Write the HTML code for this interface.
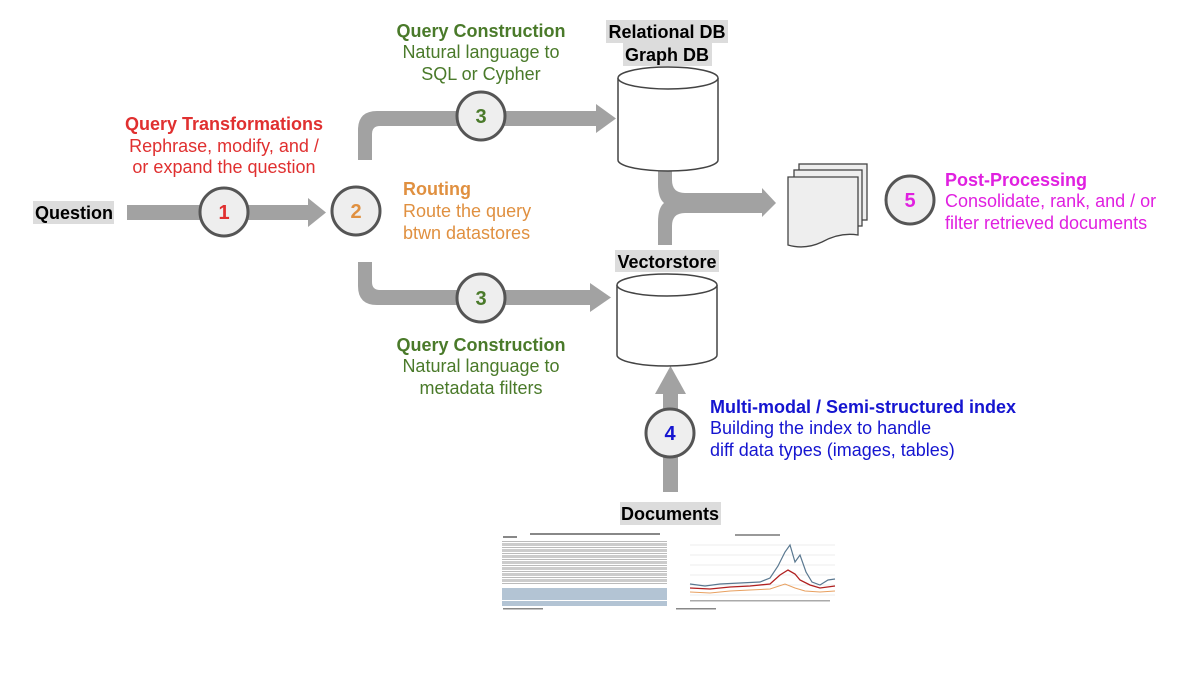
<!DOCTYPE html>
<html><head><meta charset="utf-8"><style>
html,body{margin:0;padding:0;background:#fff;}
svg{display:block;font-family:"Liberation Sans",Arial,sans-serif;}
</style></head><body>
<svg width="1200" height="674" viewBox="0 0 1200 674">
<g fill="#a2a2a2">
  <rect x="127" y="205" width="183" height="15"/>
  <polygon points="308,198 326,212.5 308,227"/>
  <path d="M358,160 L358,130 Q358,111 377,111 L598,111 L598,126 L380,126 Q372,126 372,134 L372,160 Z"/>
  <polygon points="596,104 616,118.5 596,133"/>
  <path d="M358,262 L358,286 Q358,305 377,305 L592,305 L592,290 L380,290 Q372,290 372,282 L372,262 Z"/>
  <polygon points="590,283 611,297.5 590,312"/>
  <path d="M658,159 L672,159 L672,180 Q672,193 685,193 L762,193 L762,213 L685,213 Q672,213 672,226 L672,245 L658,245 L658,222 Q658,208 664,203 Q658,198 658,184 Z"/>
  <polygon points="762,188 776,203 762,217"/>
  <rect x="663" y="392" width="15" height="100"/>
  <polygon points="655,394 670.5,366 686,394"/>
</g>
<g fill="#eeeeee" stroke="#555" stroke-width="3">
  <circle cx="224" cy="212" r="24"/>
  <circle cx="356" cy="211" r="24"/>
  <circle cx="481" cy="116" r="24"/>
  <circle cx="481" cy="298" r="24"/>
  <circle cx="670" cy="433" r="24"/>
  <circle cx="910" cy="200" r="24"/>
</g>
<g font-size="20" font-weight="bold" text-anchor="middle">
  <text x="224" y="219" fill="#e03030">1</text>
  <text x="356" y="218" fill="#e09040">2</text>
  <text x="481" y="123" fill="#4a7a2a">3</text>
  <text x="481" y="305" fill="#4a7a2a">3</text>
  <text x="670" y="440" fill="#1515d0">4</text>
  <text x="910" y="207" fill="#e020e0">5</text>
</g>
<g fill="#fff" stroke="#444" stroke-width="1.5">
  <path d="M618,78 L618,160 A50,11 0 0 0 718,160 L718,78"/>
  <ellipse cx="668" cy="78" rx="50" ry="11"/>
  <path d="M617,285 L617,355 A50,11 0 0 0 717,355 L717,285"/>
  <ellipse cx="667" cy="285" rx="50" ry="11"/>
</g>
<g fill="#eee" stroke="#444" stroke-width="1.3">
  <rect x="799" y="164" width="68" height="56"/>
  <rect x="794" y="170" width="68" height="56"/>
  <path d="M788,177 L858,177 L858,235 Q840,232 822,242 Q805,250 788,245 Z"/>
</g>
<g fill="#dcdcdc">
  <rect x="33" y="201" width="81" height="23"/>
  <rect x="606" y="20" width="122" height="23"/>
  <rect x="623" y="43" width="89" height="23"/>
  <rect x="615" y="250" width="104" height="22"/>
  <rect x="620" y="502" width="101" height="23"/>
</g>
<g font-size="18" font-weight="bold" fill="#000" text-anchor="middle">
  <text x="74" y="219">Question</text>
  <text x="667" y="38">Relational DB</text>
  <text x="667" y="61">Graph DB</text>
  <text x="667" y="268">Vectorstore</text>
  <text x="670" y="520">Documents</text>
</g>
<g font-size="18" text-anchor="middle">
  <text x="224" y="130" fill="#e03030" font-weight="bold">Query Transformations</text>
  <text x="224" y="152" fill="#e03030">Rephrase, modify, and /</text>
  <text x="224" y="173" fill="#e03030">or expand the question</text>
  <text x="481" y="37" fill="#4a7a2a" font-weight="bold">Query Construction</text>
  <text x="481" y="58" fill="#4a7a2a">Natural language to</text>
  <text x="481" y="80" fill="#4a7a2a">SQL or Cypher</text>
  <text x="481" y="351" fill="#4a7a2a" font-weight="bold">Query Construction</text>
  <text x="481" y="372" fill="#4a7a2a">Natural language to</text>
  <text x="481" y="394" fill="#4a7a2a">metadata filters</text>
</g>
<g font-size="18">
  <text x="403" y="195" fill="#e09040" font-weight="bold">Routing</text>
  <text x="403" y="217" fill="#e09040">Route the query</text>
  <text x="403" y="239" fill="#e09040">btwn datastores</text>
  <text x="945" y="186" fill="#e020e0" font-weight="bold">Post-Processing</text>
  <text x="945" y="207" fill="#e020e0">Consolidate, rank, and / or</text>
  <text x="945" y="229" fill="#e020e0">filter retrieved documents</text>
  <text x="710" y="413" fill="#1515d0" font-weight="bold">Multi-modal / Semi-structured index</text>
  <text x="710" y="434" fill="#1515d0">Building the index to handle</text>
  <text x="710" y="456" fill="#1515d0">diff data types (images, tables)</text>
</g>
<g>
  <g fill="#bbb">
    <rect x="502" y="541" width="165" height="1"/>
    <rect x="502" y="547" width="165" height="1"/>
    <rect x="502" y="553" width="165" height="1"/>
    <rect x="502" y="559" width="165" height="1"/>
    <rect x="502" y="565" width="165" height="1"/>
    <rect x="502" y="571" width="165" height="1"/>
    <rect x="502" y="577" width="165" height="1"/>
    <rect x="502" y="583" width="165" height="1"/>
  </g>
  <g fill="#999">
    <rect x="502" y="543" width="165" height="3" opacity="0.5"/>
    <rect x="502" y="549" width="165" height="3" opacity="0.5"/>
    <rect x="502" y="555" width="165" height="3" opacity="0.5"/>
    <rect x="502" y="561" width="165" height="3" opacity="0.5"/>
    <rect x="502" y="567" width="165" height="3" opacity="0.5"/>
    <rect x="502" y="573" width="165" height="3" opacity="0.5"/>
    <rect x="502" y="579" width="165" height="3" opacity="0.5"/>
  </g>
  <rect x="502" y="588" width="165" height="12" fill="#b3c4d4"/>
  <rect x="502" y="601" width="165" height="5" fill="#b3c4d4"/>
  <g fill="#888">
    <rect x="503" y="536" width="14" height="2"/>
    <rect x="530" y="533" width="130" height="2"/>
    <rect x="503" y="608" width="40" height="1.5"/>
  </g>
  <rect x="735" y="534" width="45" height="2" fill="#999"/>
  <g fill="none" stroke="#ddd" stroke-width="0.6">
    <line x1="690" y1="545" x2="835" y2="545"/><line x1="690" y1="555" x2="835" y2="555"/>
    <line x1="690" y1="565" x2="835" y2="565"/><line x1="690" y1="575" x2="835" y2="575"/>
    <line x1="690" y1="585" x2="835" y2="585"/><line x1="690" y1="595" x2="835" y2="595"/>
  </g>
  <polyline fill="none" stroke="#e8a060" stroke-width="1" points="690,592 710,593 730,591 750,590 770,589 785,584 795,588 805,591 820,592 835,591"/>
  <polyline fill="none" stroke="#b02020" stroke-width="1.3" points="690,588 710,589 730,587 750,586 770,584 780,575 788,570 795,574 800,580 810,585 820,588 835,586"/>
  <polyline fill="none" stroke="#5a7890" stroke-width="1.2" points="690,584 705,586 720,584 740,583 760,582 770,578 778,566 785,552 790,545 795,562 800,555 806,572 812,582 820,585 828,580 835,579"/>
  <rect x="690" y="600" width="140" height="1.5" fill="#aaa"/>
  <rect x="676" y="608" width="40" height="1.5" fill="#888"/>
</g>
</svg>
</body></html>
